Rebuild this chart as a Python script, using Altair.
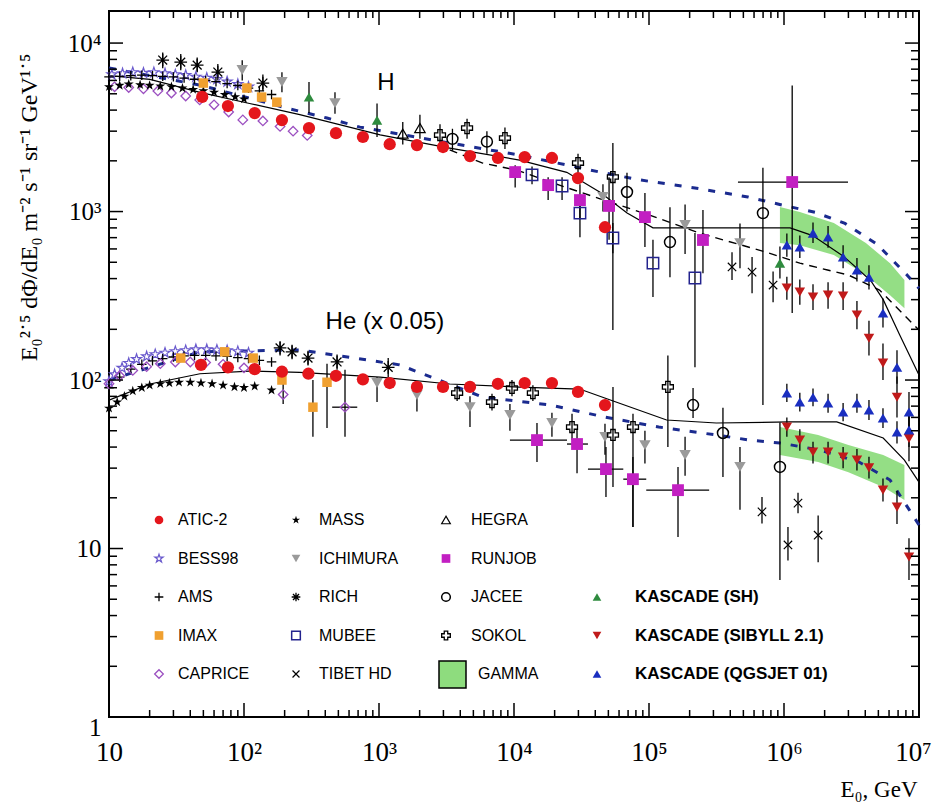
import altair as alt
import pandas as pd

# ---------------------------------------------------------------
# Proton and helium spectra, E^2.5 dPhi/dE vs E (GeV).
# Helium fluxes are already multiplied by 0.05.
# ---------------------------------------------------------------
E_MIN, E_MAX = 10, 1e7
F_MIN, F_MAX = 1, 15500
W, H = 810, 706

# ---- ATIC-2
atic_p_E = [49, 76, 120, 191, 303, 480, 760, 1200, 1910, 2980, 4720, 7600, 12000, 19100, 29800, 47200]
atic_p_F = [4790, 4230, 3840, 3490, 3130, 2920, 2770, 2510, 2480, 2415, 2135, 2080, 2105, 2080, 1580, 807]
atic_he_E = [48, 76, 120, 191, 300, 480, 760, 1200, 1910, 2980, 4720, 7600, 12000, 19100, 29800, 47200]
atic_he_F = [123, 119, 116, 112, 109, 106, 101, 96, 91, 91, 91, 95, 96, 96, 85, 71]

# ---- BESS98
bess_p_E = [10.5, 12.6, 15, 18, 21.5, 26, 31, 37, 44, 53, 63, 75, 90, 108]
bess_p_F = [6500, 6600, 6700, 6650, 6700, 6600, 6500, 6450, 6300, 6200, 6100, 5900, 5700, 5500]
bess_he_E = [10, 11, 12.5, 14, 16, 19, 22, 26, 31, 37, 44, 53, 63, 75, 90, 108]
bess_he_F = [98, 108, 118, 126, 133, 138, 142, 145, 148, 150, 152, 152, 151, 150, 148, 145]

# ---- AMS
ams_p_E = [10, 12, 14.5, 17.5, 21, 25, 30, 36, 43, 52, 62, 75, 90, 108, 130, 160]
ams_p_F = [6300, 6350, 6400, 6450, 6400, 6350, 6300, 6200, 6100, 6000, 5900, 5750, 5600, 5400, 5200, 4950]
ams_he_E = [10, 12, 14.5, 17.5, 21, 25, 30, 36, 43, 52, 62, 75, 90, 108, 130, 160]
ams_he_F = [90, 104, 116, 124, 130, 134, 137, 139, 140, 140, 139, 138, 136, 134, 131, 128]

# ---- IMAX
imax_p_E = [50, 105, 135, 175]
imax_p_F = [5790, 5410, 4780, 4460]
imax_he_E = [34, 72, 117, 191, 324, 412]
imax_he_F = [135, 147, 135, 100, 69, 97]
imax_he_lo = [None, None, None, None, 46, 52]
imax_he_hi = [None, None, None, None, 100, 125]

# ---- CAPRICE
caprice_p_E = [11, 14, 18, 23, 29, 37, 47, 60, 77, 98, 138, 185, 231, 294]
caprice_p_F = [5500, 5450, 5350, 5200, 5050, 4850, 4600, 4300, 3900, 3500, 3450, 3200, 3000, 2830]
caprice_he_E = [10, 12, 15, 19, 24, 31, 40, 52, 70, 100, 195, 560]
caprice_he_F = [95, 106, 114, 120, 125, 128, 128, 127, 124, 118, 82, 69]
caprice_he_lo = [None] * 10 + [72, 46]
caprice_he_hi = [None] * 10 + [95, 115]
caprice_he_elo = [None] * 11 + [450]
caprice_he_ehi = [None] * 11 + [690]

# ---- MASS
mass_p_E = [10, 12, 14, 17, 20, 24, 29, 35, 42, 50, 60, 72, 86, 100]
mass_p_F = [5500, 5600, 5700, 5650, 5600, 5550, 5500, 5400, 5300, 5200, 5100, 4950, 4800, 4650]
mass_he_E = [10, 11.5, 13, 15, 17.5, 20, 24, 28, 33, 40, 48, 58, 70, 85, 100, 120, 160]
mass_he_F = [68, 74, 80, 86, 90, 93, 95, 96, 97, 97, 96, 95, 93, 91, 90, 92, 87]

# ---- ICHIMURA
ichimura_p_E = [97, 191, 472, 45600, 185000, 472000]
ichimura_p_F = [6920, 5870, 4400, 1220, 832, 650]
ichimura_p_lo = [6000, 5100, 3800, 1000, 560, 460]
ichimura_p_hi = [7900, 6700, 5100, 1450, 1100, 850]
ichimura_he_E = [967, 1910, 4720, 9330, 19100, 47200, 93300, 185000, 472000]
ichimura_he_F = [96, 81.5, 69, 62, 55.6, 45.9, 41.1, 35.9, 30.5]
ichimura_he_lo = [74, 65, 52.6, 50, 46, 36, 32, 27, 17]
ichimura_he_hi = [104, 90, 80, 72, 64, 55, 50, 46, 40]

# ---- RICH
rich_p_E = [25, 34, 45, 64, 138]
rich_p_F = [7930, 7710, 7400, 6730, 5790]
rich_p_lo = [7100, 6900, 6700, 6000, 5200]
rich_p_hi = [8800, 8600, 8200, 7500, 6500]
rich_he_E = [185, 227, 298, 489, 1170]
rich_he_F = [155, 147, 135, 128, 119]
rich_he_lo = [140, 133, 122, 115, 104]
rich_he_hi = [170, 162, 149, 142, 135]

# ---- MUBEE
mubee_p_E = [13600, 22700, 30800, 54000, 107000, 219000]
mubee_p_F = [1650, 1417, 979, 697, 494, 403]
mubee_p_lo = [1450, 1170, 705, 565, 311, 119]
mubee_p_hi = [1850, 1600, 1170, 855, 680, 745]

# ---- TIBET HD
tibet_p_E = [412000, 580000, 830000]
tibet_p_F = [469, 437, 366]
tibet_p_lo = [393, 327, 290]
tibet_p_hi = [573, 537, 440]
tibet_he_E = [687000, 1070000, 1270000, 1790000]
tibet_he_F = [16.5, 10.5, 18.6, 12]
tibet_he_lo = [14.1, 8.5, 16.2, 8.3]
tibet_he_hi = [20.2, 13.4, 21.4, 15.7]

# ---- HEGRA
hegra_p_E = [1500, 2010]
hegra_p_F = [2900, 3130]
hegra_p_lo = [2500, 2700]
hegra_p_hi = [3400, 3760]

# ---- RUNJOB
runjob_p_E = [10200, 17900, 30800, 50600, 93300, 251000, 1150000]
runjob_p_F = [1715, 1435, 1170, 1080, 927, 678, 1497]
runjob_p_lo = [1390, 1170, 900, 680, 615, 430, 250]
runjob_p_hi = [1880, 1600, 1450, 1600, 1290, 1020, 5600]
runjob_p_elo = [None] * 6 + [456000]
runjob_p_ehi = [None] * 6 + [2980000]
runjob_he_E = [14800, 29300, 48000, 76000, 164000]
runjob_he_F = [44, 41.7, 29.6, 25.8, 22.2]
runjob_he_lo = [32.6, 28, 20.2, 13.4, 11.7]
runjob_he_hi = [55.6, 50.5, 40, 34.9, 30.5]
runjob_he_elo = [9330, 24700, 35300, 64500, 95400]
runjob_he_ehi = [24700, 35300, 64500, 95400, 279000]

# ---- JACEE
jacee_p_E = [3500, 6300, 68700, 143000, 698000]
jacee_p_F = [2700, 2600, 1306, 659, 979]
jacee_p_lo = [2300, 2200, 1000, 408, 71]
jacee_p_hi = [3100, 3000, 1700, 1060, 1820]
jacee_he_E = [212000, 353000, 933000]
jacee_he_F = [71, 48.5, 30.5]
jacee_he_lo = [59.5, 26.6, 6.5]
jacee_he_hi = [89.7, 68.4, 56]

# ---- SOKOL
sokol_p_E = [2830, 4490, 8570, 29800, 54000]
sokol_p_F = [2845, 3130, 2730, 1940, 1603]
sokol_p_lo = [2450, 2700, 2350, 1700, 198]
sokol_p_hi = [3300, 3550, 3150, 2200, 2550]
sokol_he_E = [3790, 6870, 9660, 13800, 26900, 54100, 76100, 138000]
sokol_he_F = [83.7, 74, 89.7, 83.7, 52.6, 47.2, 52.6, 91]
sokol_he_lo = [75, 66, 80, 75, 44, 23.2, 13.4, 40]
sokol_he_hi = [93, 83, 100, 93, 63, 90.8, 63, 140]

# ---- KASCADE
kas_sh_p_E = [303, 967, 933000]
kas_sh_p_F = [4790, 3490, 494]
kas_sh_p_lo = [3840, 2770, 400]
kas_sh_p_hi = [5870, 4380, 620]

kas_E = [1050000, 1310000, 1640000, 2120000, 2740000, 3470000, 4260000, 5410000, 6870000, 8430000]
kas_sib_p_F = [352, 333, 311, 319, 315, 243, 177, 126, 79, 45]
kas_sib_p_lo = [300, 280, 260, 265, 260, 200, 140, 100, 60, 33]
kas_sib_p_hi = [410, 395, 370, 380, 380, 295, 225, 165, 105, 62]
kas_sib_he_F = [52.6, 44, 37.4, 37.4, 34.9, 33.5, 30.1, 22.2, 17.6, 8.9]
kas_sib_he_lo = [46, 38, 32, 32, 30, 29, 26, 19, 14, 6.5]
kas_sib_he_hi = [60, 51, 43, 43, 40, 39, 35, 26, 22, 11.5]
kas_qgs_p_F = [633, 616, 745, 706, 537, 450, 408, 250, 119, 64.6]
kas_qgs_p_lo = [540, 530, 650, 610, 460, 385, 345, 205, 95, 48]
kas_qgs_p_hi = [740, 720, 860, 820, 630, 530, 480, 305, 150, 85]
kas_qgs_he_F = [83.7, 74, 79, 73, 64.6, 73, 66.4, 59.5, 49.1, 50.5]
kas_qgs_he_lo = [74, 65, 70, 64, 57, 64, 58, 52, 42, 40]
kas_qgs_he_hi = [95, 84, 89, 83, 73, 83, 76, 68, 57, 63]

# ---- GAMMA bands
gamma_p_E = [933000, 1310000, 2340000, 4040000, 6100000, 7800000]
gamma_p_top = [1063, 993, 855, 650, 494, 392]
gamma_p_bot = [650, 632, 552, 420, 319, 267]
gamma_he_E = [933000, 1790000, 3000000, 5430000, 7800000]
gamma_he_top = [52.6, 47.2, 41.1, 35.9, 31.3]
gamma_he_bot = [35.9, 32.6, 28.4, 23.2, 19.4]

# ---- model curves
p_solid_E = [10, 20.1, 47.2, 110, 259, 1020, 3340, 11000, 24600, 43400, 68800, 107000, 236000, 1110000, 1630000, 2780000, 4380000, 5430000, 7200000, 10000000]
p_solid_F = [6410, 6090, 5100, 4380, 3760, 2850, 2380, 2020, 1710, 1300, 980, 800, 800, 800, 720, 540, 390, 300, 185, 107]
p_blue_E = [10, 47.2, 208, 412, 723, 3360, 11100, 43400, 85700, 219000, 541000, 984000, 1700000, 2830000, 4890000, 8150000, 10000000]
p_blue_F = [7110, 5630, 4110, 3590, 3170, 2550, 2160, 1715, 1540, 1380, 1220, 1090, 990, 850, 640, 420, 350]
p_dash_E = [3340, 5860, 10500, 21700, 43400, 101000, 236000, 746000, 1310000, 2100000, 3000000, 5100000, 10000000]
p_dash_F = [2320, 1940, 1760, 1435, 1190, 953, 745, 573, 494, 450, 420, 342, 198]
he_solid_E = [10, 20.1, 47.2, 110, 259, 1020, 3340, 11000, 30600, 47000, 135000, 315000, 1110000, 2460000, 5430000, 7800000, 10000000]
he_solid_F = [76, 94.7, 109, 113, 111, 104, 94.7, 90.8, 88.4, 78.2, 57.9, 55.6, 56.4, 56.4, 45.3, 33.5, 24.8]
he_blue_E = [10, 47.2, 259, 1420, 5860, 18500, 47000, 118000, 315000, 556000, 933000, 1840000, 3600000, 6100000, 8500000, 10000000]
he_blue_F = [100, 147, 151, 123, 79.3, 71.1, 60.3, 52.6, 47.2, 44, 42.3, 38.4, 32.6, 25.5, 16.9, 13.8]

# ---- legend layout (columns / rows of the key)
LEG_SYM_X = [50, 187, 337, 488]
LEG_TXT_X = [69, 210, 362, 526]
LEG_ROW_Y0, LEG_ROW_DY = 509, 38.5

STAR = "M0,-1L0.2245,-0.309L0.951,-0.309L0.363,0.118L0.588,0.809L0,0.382L-0.588,0.809L-0.363,0.118L-0.951,-0.309L-0.2245,-0.309Z"
PLUS = "M-1,0L1,0M0,-1L0,1"
ASTER = "M-1,0L1,0M0,-1L0,1M-0.7,-0.7L0.7,0.7M-0.7,0.7L0.7,-0.7"
XMARK = "M-0.8,-0.8L0.8,0.8M-0.8,0.8L0.8,-0.8"

STYLE = {
    "ATIC-2": dict(shape="circle", filled=True, color="#e4161c", size=150),
    "BESS98": dict(shape=STAR, filled=False, color="#6a5acd", size=110, strokeWidth=1.2),
    "AMS": dict(shape=PLUS, filled=False, color="black", size=90, strokeWidth=1.3),
    "IMAX": dict(shape="square", filled=True, color="#f0a030", size=90),
    "CAPRICE": dict(shape="diamond", filled=False, color="#9b4fc0", size=90, strokeWidth=1.3),
    "MASS": dict(shape=STAR, filled=True, color="black", size=110),
    "ICHIMURA": dict(shape="triangle-down", filled=True, color="#9a9a9a", size=130),
    "RICH": dict(shape=ASTER, filled=False, color="black", size=160, strokeWidth=1.3),
    "MUBEE": dict(shape="square", filled=False, color="#23238e", size=130, strokeWidth=1.5),
    "TIBET HD": dict(shape=XMARK, filled=False, color="black", size=110, strokeWidth=1.2),
    "HEGRA": dict(shape="triangle-up", filled=False, color="black", size=110, strokeWidth=1.2),
    "RUNJOB": dict(shape="square", filled=True, color="#c21fc2", size=140),
    "JACEE": dict(shape="circle", filled=False, color="black", size=120, strokeWidth=1.5),
    "SOKOL": dict(shape="cross", filled=False, color="black", size=120, strokeWidth=1.3),
    "KASCADE (SH)": dict(shape="triangle-up", filled=True, color="#2e8b3e", size=110),
    "KASCADE (SIBYLL 2.1)": dict(shape="triangle-down", filled=True, color="#c01a1a", size=110),
    "KASCADE (QGSJET 01)": dict(shape="triangle-up", filled=True, color="#1a2ec0", size=110),
}

# (series, E, F, lo, hi, elo, ehi)
SERIES = [
    ("BESS98", bess_p_E, bess_p_F, None, None, None, None),
    ("BESS98", bess_he_E, bess_he_F, None, None, None, None),
    ("AMS", ams_p_E, ams_p_F, None, None, None, None),
    ("AMS", ams_he_E, ams_he_F, None, None, None, None),
    ("CAPRICE", caprice_p_E, caprice_p_F, None, None, None, None),
    ("CAPRICE", caprice_he_E, caprice_he_F, caprice_he_lo, caprice_he_hi, caprice_he_elo, caprice_he_ehi),
    ("MASS", mass_p_E, mass_p_F, None, None, None, None),
    ("MASS", mass_he_E, mass_he_F, None, None, None, None),
    ("IMAX", imax_p_E, imax_p_F, None, None, None, None),
    ("IMAX", imax_he_E, imax_he_F, imax_he_lo, imax_he_hi, None, None),
    ("RICH", rich_p_E, rich_p_F, rich_p_lo, rich_p_hi, None, None),
    ("RICH", rich_he_E, rich_he_F, rich_he_lo, rich_he_hi, None, None),
    ("ICHIMURA", ichimura_p_E, ichimura_p_F, ichimura_p_lo, ichimura_p_hi, None, None),
    ("ICHIMURA", ichimura_he_E, ichimura_he_F, ichimura_he_lo, ichimura_he_hi, None, None),
    ("HEGRA", hegra_p_E, hegra_p_F, hegra_p_lo, hegra_p_hi, None, None),
    ("SOKOL", sokol_p_E, sokol_p_F, sokol_p_lo, sokol_p_hi, None, None),
    ("SOKOL", sokol_he_E, sokol_he_F, sokol_he_lo, sokol_he_hi, None, None),
    ("JACEE", jacee_p_E, jacee_p_F, jacee_p_lo, jacee_p_hi, None, None),
    ("JACEE", jacee_he_E, jacee_he_F, jacee_he_lo, jacee_he_hi, None, None),
    ("MUBEE", mubee_p_E, mubee_p_F, mubee_p_lo, mubee_p_hi, None, None),
    ("TIBET HD", tibet_p_E, tibet_p_F, tibet_p_lo, tibet_p_hi, None, None),
    ("TIBET HD", tibet_he_E, tibet_he_F, tibet_he_lo, tibet_he_hi, None, None),
    ("ATIC-2", atic_p_E, atic_p_F, None, None, None, None),
    ("ATIC-2", atic_he_E, atic_he_F, None, None, None, None),
    ("RUNJOB", runjob_p_E, runjob_p_F, runjob_p_lo, runjob_p_hi, runjob_p_elo, runjob_p_ehi),
    ("RUNJOB", runjob_he_E, runjob_he_F, runjob_he_lo, runjob_he_hi, runjob_he_elo, runjob_he_ehi),
    ("KASCADE (SH)", kas_sh_p_E, kas_sh_p_F, kas_sh_p_lo, kas_sh_p_hi, None, None),
    ("KASCADE (SIBYLL 2.1)", kas_E, kas_sib_p_F, kas_sib_p_lo, kas_sib_p_hi, None, None),
    ("KASCADE (SIBYLL 2.1)", kas_E, kas_sib_he_F, kas_sib_he_lo, kas_sib_he_hi, None, None),
    ("KASCADE (QGSJET 01)", kas_E, kas_qgs_p_F, kas_qgs_p_lo, kas_qgs_p_hi, None, None),
    ("KASCADE (QGSJET 01)", kas_E, kas_qgs_he_F, kas_qgs_he_lo, kas_qgs_he_hi, None, None),
]

# ---------------- scales and axes ----------------
xs = alt.Scale(type="log", domain=[E_MIN, E_MAX], nice=False)
ys = alt.Scale(type="log", domain=[F_MIN, F_MAX], nice=False)

x_axis = alt.Axis(
    values=[10, 100, 1000, 10000, 100000, 1000000, 10000000],
    labelExpr="datum.value == 10 ? '10' : datum.value == 100 ? '10²' : datum.value == 1000 ? '10³' : "
              "datum.value == 10000 ? '10⁴' : datum.value == 100000 ? '10⁵' : datum.value == 1000000 ? '10⁶' : '10⁷'",
    labelFont="Liberation Serif", labelFontSize=27, labelColor="black", labelPadding=22,
    labelFlush=False, labelOverlap=False,
    labelOffset={"condition": {"test": "datum.value > 5000000", "value": -6}, "value": 0},
    title="E₀, GeV", titleFont="Liberation Serif", titleFontSize=23, titleFontWeight="normal",
    titleColor="black", titleX=808, titleY=72, titleAlign="right", titleBaseline="middle",
)
y_axis = alt.Axis(
    values=[1, 10, 100, 1000, 10000],
    labelExpr="datum.value == 1 ? '1' : datum.value == 10 ? '10' : datum.value == 100 ? '10²' : "
              "datum.value == 1000 ? '10³' : '10⁴'",
    labelFont="Liberation Serif", labelFontSize=25, labelColor="black", labelPadding=8,
    labelFlush=False, labelOverlap=False,
    labelOffset={"condition": {"test": "datum.value < 2", "value": 10}, "value": 0},
    title="E₀²˙⁵ dΦ/dE₀  m⁻² s⁻¹ sr⁻¹ GeV¹˙⁵", titleFont="Liberation Serif", titleFontSize=24,
    titleFontWeight="normal", titleColor="black", titleX=-80, titleY=196, titleAngle=270,
    titleAlign="center", titleBaseline="middle",
)


def xenc(field):
    return alt.X(field, type="quantitative", scale=xs, axis=x_axis)


def yenc(field):
    return alt.Y(field, type="quantitative", scale=ys, axis=y_axis)


def table(E, F, lo=None, hi=None, elo=None, ehi=None):
    n = len(E)
    blank = [None] * n
    return pd.DataFrame({
        "E": [float(v) for v in E],
        "F": [float(v) for v in F],
        "lo": pd.to_numeric(pd.Series(lo if lo is not None else blank), errors="coerce"),
        "hi": pd.to_numeric(pd.Series(hi if hi is not None else blank), errors="coerce"),
        "elo": pd.to_numeric(pd.Series(elo if elo is not None else blank), errors="coerce"),
        "ehi": pd.to_numeric(pd.Series(ehi if ehi is not None else blank), errors="coerce"),
    })


layers = []

# GAMMA bands
for E, top, bot in [(gamma_p_E, gamma_p_top, gamma_p_bot), (gamma_he_E, gamma_he_top, gamma_he_bot)]:
    df = pd.DataFrame({"E": E, "top": top, "bot": bot})
    layers.append(
        alt.Chart(df).mark_area(color="#8edc7e", opacity=0.95).encode(
            x=xenc("E"), y=yenc("top"), y2=alt.Y2("bot"))
    )

# model curves
for E, F, kw in [
    (p_solid_E, p_solid_F, dict(color="black", strokeWidth=1.2)),
    (he_solid_E, he_solid_F, dict(color="black", strokeWidth=1.2)),
    (p_blue_E, p_blue_F, dict(color="#1b2b8f", strokeWidth=3, strokeDash=[7, 10])),
    (he_blue_E, he_blue_F, dict(color="#1b2b8f", strokeWidth=3, strokeDash=[7, 10])),
    (p_dash_E, p_dash_F, dict(color="black", strokeWidth=1.4, strokeDash=[8, 6])),
]:
    df = pd.DataFrame({"E": E, "F": F})
    layers.append(alt.Chart(df).mark_line(**kw).encode(x=xenc("E"), y=yenc("F")))

# error bars
for name, E, F, lo, hi, elo, ehi in SERIES:
    df = table(E, F, lo, hi, elo, ehi)
    if lo is not None:
        layers.append(
            alt.Chart(df).transform_filter("isValid(datum.lo)").mark_rule(color="black", strokeWidth=1.3).encode(
                x=xenc("E"), y=yenc("lo"), y2=alt.Y2("hi"))
        )
    if elo is not None:
        layers.append(
            alt.Chart(df).transform_filter("isValid(datum.elo)").mark_rule(color="black", strokeWidth=1.3).encode(
                x=xenc("elo"), x2=alt.X2("ehi"), y=yenc("F"))
        )

# data points
for name, E, F, lo, hi, elo, ehi in SERIES:
    df = table(E, F)
    st = dict(STYLE[name])
    layers.append(alt.Chart(df).mark_point(opacity=1, **st).encode(x=xenc("E"), y=yenc("F")))

# labels inside the plot
notes = pd.DataFrame({"E": [1127, 1107], "F": [5790, 221], "t": ["H", "He (x 0.05)"]})
layers.append(
    alt.Chart(notes).mark_text(font="Liberation Sans", fontSize=24, color="black").encode(
        x=xenc("E"), y=yenc("F"), text="t:N")
)

# inward ticks on all four sides
y_major = [1, 10, 100, 1000, 10000]
y_minor = [m * d for d in y_major for m in range(2, 10) if m * d <= F_MAX]
x_major = [10, 100, 1000, 10000, 100000, 1000000, 10000000]
x_minor = [m * d for d in x_major[:-1] for m in range(2, 10)]
for vals, L in [(y_major, 14), (y_minor, 8)]:
    df = pd.DataFrame({"v": vals})
    layers.append(alt.Chart(df).mark_rule(color="black", strokeWidth=1.5).encode(
        y=yenc("v"), x=alt.value(0), x2=alt.value(L)))
    layers.append(alt.Chart(df).mark_rule(color="black", strokeWidth=1.5).encode(
        y=yenc("v"), x=alt.value(W), x2=alt.value(W - L)))
for vals, L in [(x_major, 14), (x_minor, 7)]:
    df = pd.DataFrame({"v": vals})
    layers.append(alt.Chart(df).mark_rule(color="black", strokeWidth=1.5).encode(
        x=xenc("v"), y=alt.value(H), y2=alt.value(H - L)))
    layers.append(alt.Chart(df).mark_rule(color="black", strokeWidth=1.5).encode(
        x=xenc("v"), y=alt.value(0), y2=alt.value(L)))

# key: (label, column, row)
KEY = [
    ("ATIC-2", 0, 0), ("BESS98", 0, 1), ("AMS", 0, 2), ("IMAX", 0, 3), ("CAPRICE", 0, 4),
    ("MASS", 1, 0), ("ICHIMURA", 1, 1), ("RICH", 1, 2), ("MUBEE", 1, 3), ("TIBET HD", 1, 4),
    ("HEGRA", 2, 0), ("RUNJOB", 2, 1), ("JACEE", 2, 2), ("SOKOL", 2, 3), ("GAMMA", 2, 4),
    ("KASCADE (SH)", 3, 2), ("KASCADE (SIBYLL 2.1)", 3, 3), ("KASCADE (QGSJET 01)", 3, 4),
]
one = pd.DataFrame({"k": [0]})
for label, c, r in KEY:
    ky = LEG_ROW_Y0 + r * LEG_ROW_DY
    if label == "GAMMA":
        layers.append(alt.Chart(one).mark_rect(color="#8edc7e", stroke="black", strokeWidth=1.5).encode(
            x=alt.value(LEG_SYM_X[c] - 7), x2=alt.value(LEG_SYM_X[c] + 20),
            y=alt.value(ky - 13), y2=alt.value(ky + 14)))
        tx = LEG_TXT_X[c] + 7
    else:
        st = dict(STYLE[label])
        st["size"] = min(st["size"], 75)
        layers.append(alt.Chart(one).mark_point(opacity=1, **st).encode(
            x=alt.value(LEG_SYM_X[c]), y=alt.value(ky)))
        tx = LEG_TXT_X[c]
    bold = label.startswith("KASCADE")
    layers.append(alt.Chart(one).mark_text(
        text=label, font="Liberation Sans", fontSize=17 if bold else 16,
        fontWeight="bold" if bold else "normal", align="left", baseline="middle", color="black",
    ).encode(x=alt.value(tx), y=alt.value(ky)))

chart = alt.layer(*layers).properties(
    width=W, height=H,
    autosize=alt.AutoSizeParams(type="none"),
    padding={"left": 109, "top": 11, "right": 17, "bottom": 94},
).configure(background="white").configure_view(
    stroke="black", strokeWidth=2
).configure_axis(grid=False, domain=False, ticks=False)

chart.save("out.html", embed_options={"renderer": "svg", "actions": False})
